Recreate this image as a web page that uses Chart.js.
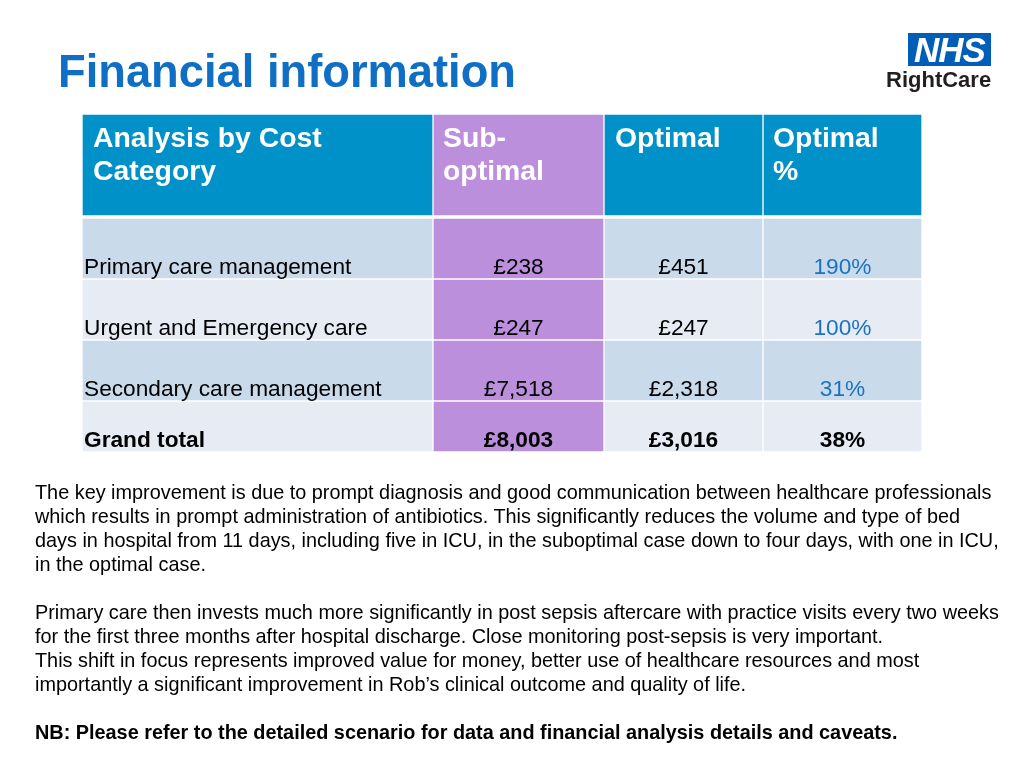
<!DOCTYPE html>
<html>
<head>
<meta charset="utf-8">
<script src="https://cdn.jsdelivr.net/npm/chart.js@4.4.0/dist/chart.umd.min.js"></script>
<style>
  html, body { margin: 0; padding: 0; background: #ffffff; }
  body { width: 1024px; height: 768px; position: relative; overflow: hidden; font-family: "Liberation Sans", Arial, Helvetica, sans-serif; }
  #wrap { position: absolute; left: 0; top: 0; width: 1024px; height: 768px; }
  .title { position: absolute; left: 58px; top: 49px; font-size: 45.3px; line-height: 45px; font-weight: bold; color: #0f6fc4; white-space: nowrap; }
  .nhsbox { position: absolute; left: 908px; top: 33px; width: 83px; height: 33px; background: #005eb8; }
  .nhs { position: absolute; left: 908px; top: 32px; width: 83px; text-align: center; font-size: 35px; line-height: 35px; font-weight: bold; font-style: italic; color: #ffffff; letter-spacing: -1px; }
  .rc { position: absolute; left: 886px; top: 69px; font-size: 22px; line-height: 22px; font-weight: bold; color: #231f20; white-space: nowrap; }
  .para { position: absolute; left: 35px; top: 480px; font-size: 19.85px; line-height: 24px; color: #000000; white-space: nowrap; }
  .para b { font-weight: bold; }
</style>
</head>
<body>
<div id="wrap"><canvas id="c" width="1024" height="768"></canvas></div>
<div class="title">Financial information</div>
<div class="nhsbox"></div>
<div class="nhs">NHS</div>
<div class="rc">RightCare</div>
<div class="para">The key improvement is due to prompt diagnosis and good communication between healthcare professionals<br>which results in prompt administration of antibiotics. This significantly reduces the volume and type of bed<br>days in hospital from 11 days, including five in ICU, in the suboptimal case down to four days, with one in ICU,<br>in the optimal case.<br>&nbsp;<br>Primary care then invests much more significantly in post sepsis aftercare with practice visits every two weeks<br>for the first three months after hospital discharge. Close monitoring post-sepsis is very important.<br>This shift in focus represents improved value for money, better use of healthcare resources and most<br>importantly a significant improvement in Rob’s clinical outcome and quality of life.<br>&nbsp;<br><b>NB: Please refer to the detailed scenario for data and financial analysis details and caveats.</b></div>

<script>
// ---- DATA ----
const headerLabels = [["Analysis by Cost", "Category"], ["Sub-", "optimal"], ["Optimal"], ["Optimal", "%"]];
const categories = ["Primary care management", "Urgent and Emergency care", "Secondary care management", "Grand total"];
const subOptimal = [238, 247, 7518, 8003];
const optimal = [451, 247, 2318, 3016];
const optimalPct = [190, 100, 31, 38];

// ---- LAYOUT (page pixel units mapped through linear scales) ----
const colEdges = [[83, 432], [434, 603], [605, 762], [764, 921]];
const rowEdges = [[115, 215], [219, 278], [280, 339], [341, 400], [402, 451]];
const headerBlue = "#0091c9";
const purple = "#bc8fdd";
const bandDark = "#c9daea";
const bandLight = "#e6ebf4";
const FONT = '"Liberation Sans", Arial, Helvetica, sans-serif';

function money(v) { return "£" + v.toLocaleString("en-GB"); }

function rowColors(r) {
  if (r === 0) return [headerBlue, purple, headerBlue, headerBlue];
  const band = (r % 2 === 1) ? bandDark : bandLight;
  return [band, purple, band, band];
}

const datasets = rowEdges.map((re, r) => ({
  label: r === 0 ? "header" : categories[r - 1],
  data: colEdges.map(ce => ({ x: [ce[0], ce[1]], y: (re[0] + re[1]) / 2 })),
  backgroundColor: rowColors(r),
  borderWidth: 0,
  barThickness: re[1] - re[0],
  grouped: false
}));

const tablePlugin = {
  id: "tableText",
  afterDatasetsDraw(chart) {
    const ctx = chart.ctx;
    const xs = chart.scales.x, ys = chart.scales.y;
    const X = v => xs.getPixelForValue(v);
    const Y = v => ys.getPixelForValue(v);
    ctx.save();
    // header
    ctx.fillStyle = "#ffffff";
    ctx.font = "bold 28.4px " + FONT;
    ctx.textAlign = "left";
    ctx.textBaseline = "alphabetic";
    const headOff = [10, 9, 10, 9];
    headerLabels.forEach((lines, c) => {
      lines.forEach((t, i) => {
        ctx.fillText(t, X(colEdges[c][0] + headOff[c]), Y(rowEdges[0][0] + 31.5 + i * 33));
      });
    });
    // body
    categories.forEach((cat, i) => {
      const re = rowEdges[i + 1];
      const total = i === categories.length - 1;
      const base = Y(re[1] - 4.5);
      ctx.font = (total ? "bold " : "") + "22.7px " + FONT;
      ctx.fillStyle = "#000000";
      ctx.textAlign = "left";
      ctx.fillText(cat, X(colEdges[0][0] + 1), Y(re[1] - 4));
      ctx.textAlign = "center";
      ctx.fillText(money(subOptimal[i]), X((colEdges[1][0] + colEdges[1][1]) / 2), base);
      ctx.fillText(money(optimal[i]), X((colEdges[2][0] + colEdges[2][1]) / 2), base);
      ctx.fillStyle = total ? "#000000" : "#1a72c2";
      ctx.fillText(optimalPct[i] + "%", X((colEdges[3][0] + colEdges[3][1]) / 2), base);
    });
    ctx.restore();
  }
};

new Chart(document.getElementById("c"), {
  type: "bar",
  data: { datasets },
  options: {
    indexAxis: "y",
    responsive: false,
    maintainAspectRatio: false,
    animation: false,
    events: [],
    layout: { padding: 0 },
    plugins: { legend: { display: false }, tooltip: { enabled: false } },
    scales: {
      x: { type: "linear", min: 0, max: 1024, offset: false, display: false },
      y: { type: "linear", min: 0, max: 768, reverse: true, offset: false, display: false }
    }
  },
  plugins: [tablePlugin]
});
</script>
</body>
</html>
